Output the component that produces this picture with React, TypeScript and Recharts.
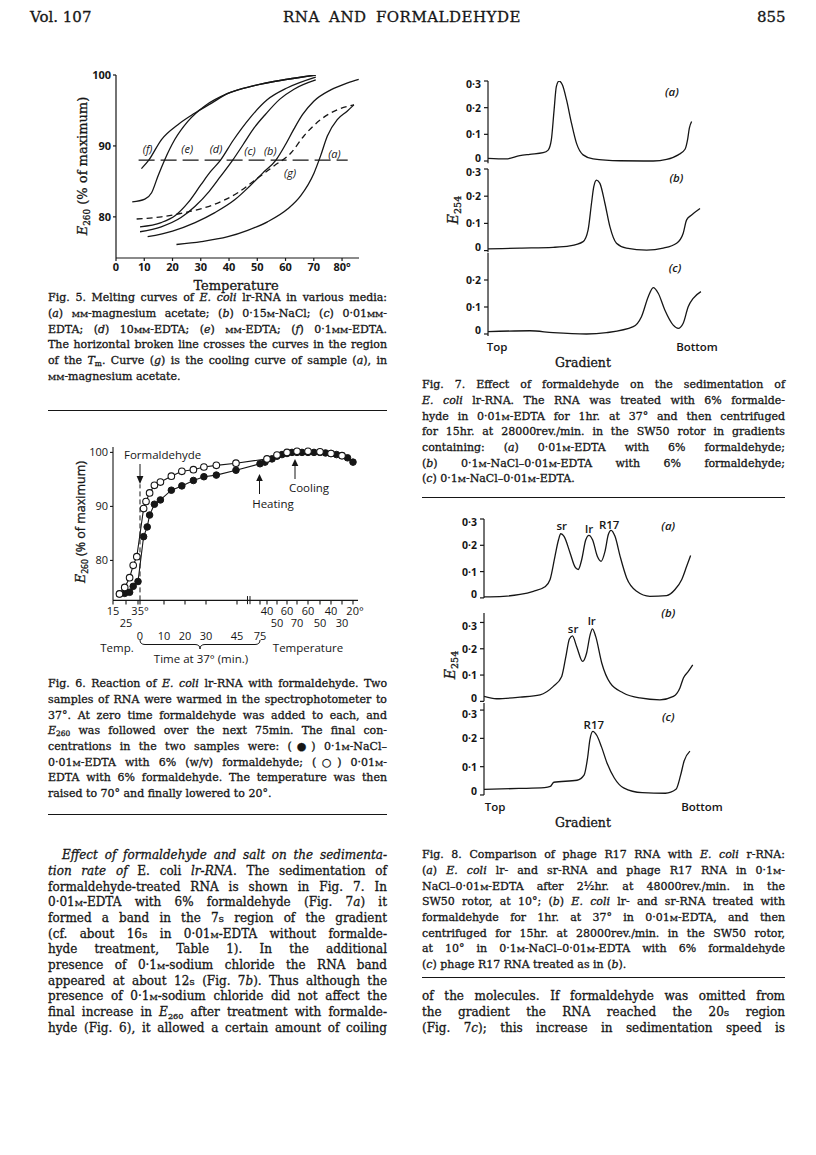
import React from 'react';
import { LineChart, Line, XAxis, YAxis, ReferenceDot, ReferenceLine } from 'recharts';

const SERIF = '"DejaVu Serif", "Liberation Serif", serif';
const SANS = '"Open Sans", "DejaVu Sans", sans-serif';
const INK = '#161616';

// ---------- Fig. 5: melting curves (temperature, E260 % of maximum) ----------
const tempA = [21.4, 30.2, 39.6, 46.6, 53.6, 60.7, 65.4, 70.1, 72.4, 74.8, 78.3, 81.8, 84.2];
const e260A = [76.1, 76.5, 77.2, 78.1, 79.3, 81.1, 83.0, 86.2, 88.6, 91.4, 93.7, 94.9, 95.8];
const tempB = [11.2, 20, 28, 35, 42, 47, 52, 56.6, 60, 63, 66, 70, 76, 82, 85.9];
const e260B = [77.2, 78.0, 79.2, 80.6, 82.4, 84.2, 86.2, 88.0, 90.2, 92.4, 94.4, 96.3, 97.9, 98.9, 99.4];
const tempC = [8.5, 16, 23, 28, 33, 37, 41.3, 45, 49, 53, 58, 63, 70.7];
const e260C = [77.9, 78.6, 79.9, 81.5, 83.6, 85.7, 88.0, 90.2, 92.6, 94.5, 96.6, 98.0, 99.3];
const tempD = [8.5, 16, 21, 25.5, 30, 33.5, 37, 41.5, 47.5, 53.5, 60.7, 70.7];
const e260D = [78.6, 79.2, 80.2, 82.0, 84.5, 86.4, 88.0, 90.8, 94.0, 96.5, 98.2, 99.7];
const tempE = [5.75, 10.2, 12.6, 14.9, 17.3, 20.8, 25.5, 31.3, 39.6, 48.9, 60.7, 70.7];
const e260E = [82.1, 82.5, 83.4, 85.8, 88.1, 90.9, 93.5, 95.6, 97.4, 98.5, 99.4, 100];
const tempF = [9, 11.6, 16.1, 21.9, 27.8, 33.7, 39.6, 48.9, 60.7, 70.7];
const e260F = [86.8, 88.0, 90.9, 93.0, 94.6, 96.0, 97.4, 98.5, 99.4, 100];
const tempG = [7.3, 16.1, 25.5, 33.7, 43.1, 48.9, 56, 61.9, 66.5, 72.4, 78.3, 84.2];
const e260G = [79.7, 80.0, 80.7, 81.6, 83.4, 85.1, 87.2, 89.0, 91.4, 93.7, 95.1, 95.8];
const tmLineTemp = [8, 82];
const tmLineE = [88, 88];
const fig5XTicks = [0, 10, 20, 30, 40, 50, 60, 70, 80];
const fig5YTicks = [80, 90, 100];
const fig5LabelText = ['(f)', '(e)', '(d)', '(c)', '(b)', '(a)', '(g)'];
const fig5LabelTemp = [11.2, 25.2, 35.4, 47.4, 54.6, 77.3, 61.6];
const fig5LabelE = [89.6, 89.5, 89.6, 89.3, 89.3, 88.9, 86.2];

// ---------- Fig. 6: reaction with formaldehyde ----------
// composite x axis: starting temperature, time at 37 deg, then heating / cooling temperatures
const fig6PreTicks = [15, 25, 35];
const fig6PreAt = [0, 13, 25];
const fig6TimeTicks = [0, 10, 20, 30, 45, 75];
const fig6TimeAt = [27, 51, 72, 93, 124, 147];
const fig6HeatTicks = [40, 50, 60, 70];
const fig6HeatAt = [154, 164, 174, 184];
const fig6CoolTicks = [60, 50, 40, 30, 20];
const fig6CoolAt = [195, 207, 218, 229, 240];
const fig6YTicks = [80, 90, 100];

// filled circles: 0.1M-NaCl-0.01M-EDTA
const filledPreT = [20, 24, 28, 31, 35];
const filledPreE = [73.8, 73.9, 74.1, 75.2, 76.1];
const filledTime = [1.5, 3, 4, 6, 8.5, 13.5, 18.5, 24, 29, 35, 44.5, 75];
const filledTimeE = [84.4, 86.2, 88.4, 90.4, 91.2, 93.0, 93.8, 94.8, 95.5, 95.8, 96.7, 97.9];
const filledHeatT = [38, 45, 50, 55, 60, 65, 70];
const filledHeatE = [98.2, 98.8, 99.3, 99.6, 99.8, 100, 100];
const filledCoolT = [65, 60, 55, 50, 45, 40, 35, 30, 25, 20];
const filledCoolE = [100, 100, 100, 100, 99.9, 99.8, 99.6, 99.4, 99.0, 98.2];
// open circles: 0.01M-EDTA
const openPreT = [20, 24, 28, 31, 34];
const openPreE = [73.8, 75.0, 76.8, 79.1, 80.7];
const openTime = [1.5, 2.5, 4, 6, 8.5, 13.5, 18.5, 24, 29, 35, 44.5];
const openTimeE = [89.6, 90.9, 92.5, 93.9, 94.5, 95.6, 96.5, 96.8, 97.3, 97.6, 98.0];
const openHeatT = [40, 50, 60, 70];
const openHeatE = [98.8, 99.5, 100, 100.2];
const openCoolT = [60, 50, 40, 30];
const openCoolE = [100.2, 100.1, 99.8, 99.4];
const formaldehydeMarkE = [72.6, 94.1];

// ---------- Fig. 7: sedimentation, gradient position (top = 0, bottom = 100) ----------
const fig7aPos = [0, 8, 14, 18.4, 24.3, 26.5, 27.9, 29.1, 30.1, 31.3, 32.8, 34.6, 36.8, 39, 41.9, 46.3, 58, 72.8, 78.7, 83.8, 86.8, 87.9, 88.7, 89.7];
const fig7aE = [0.010, 0.008, 0.020, 0.025, 0.031, 0.041, 0.079, 0.19, 0.279, 0.30, 0.285, 0.229, 0.141, 0.066, 0.023, 0.008, 0.001, 0, 0.006, 0.023, 0.044, 0.079, 0.123, 0.148];
const fig7bPos = [0, 14, 28.7, 36, 41.9, 44.1, 45.6, 46.6, 47.8, 49.3, 51.5, 53.7, 56.6, 61, 69.9, 77.2, 83.1, 86, 87.5, 89.7, 93.4];
const fig7bE = [0.006, 0.009, 0.012, 0.017, 0.033, 0.076, 0.174, 0.235, 0.259, 0.247, 0.174, 0.088, 0.027, 0.009, 0.002, 0.009, 0.027, 0.064, 0.113, 0.131, 0.155];
const fig7cPos = [0, 18.4, 28.7, 43.4, 52.2, 64, 67.6, 70.6, 72.8, 75, 77.9, 81.6, 83.8, 86, 88.2, 90.4, 93.8];
const fig7cE = [0.009, 0.012, 0.005, 0.0, 0.005, 0.027, 0.064, 0.138, 0.172, 0.151, 0.089, 0.033, 0.021, 0.040, 0.101, 0.132, 0.157];

// ---------- Fig. 8: phage R17 RNA vs E. coli r-RNA ----------
const fig8aPos = [0, 8.3, 15.5, 21.2, 26.2, 28.4, 30.5, 32, 33, 34.4, 37, 39.1, 40.5, 42, 43.7, 45.1, 46.7, 48.7, 50.3, 52, 53.4, 54.6, 56.3, 58.5, 61.3, 65.6, 71.3, 78.5, 82.1, 85, 87.1, 88.8];
const fig8aE = [0.004, 0.006, 0.013, 0.025, 0.042, 0.07, 0.158, 0.22, 0.244, 0.234, 0.171, 0.118, 0.108, 0.146, 0.22, 0.238, 0.22, 0.158, 0.139, 0.177, 0.24, 0.257, 0.234, 0.158, 0.076, 0.025, 0.006, 0.009, 0.032, 0.07, 0.12, 0.161];
const fig8bPos = [0, 5.4, 15.5, 24.1, 29.8, 33.4, 35.2, 36.7, 38, 39.8, 42.4, 44.1, 45.6, 46.6, 48, 50.6, 54.2, 59.9, 67, 75.6, 81.4, 84.2, 85.7, 87.8, 89.7];
const fig8bE = [0.019, 0.010, 0.016, 0.025, 0.057, 0.095, 0.171, 0.237, 0.249, 0.209, 0.152, 0.184, 0.253, 0.276, 0.247, 0.146, 0.07, 0.032, 0.013, 0.006, 0.019, 0.051, 0.089, 0.114, 0.139];
const fig8cPos = [0, 15, 26, 28.5, 30, 40, 43, 44.5, 45.5, 46.8, 48.5, 50.5, 53, 56, 60, 68, 78, 82.5, 84.5, 86, 88.5];
const fig8cE = [0.02, 0.023, 0.026, 0.03, 0.045, 0.052, 0.07, 0.13, 0.195, 0.225, 0.21, 0.17, 0.11, 0.06, 0.025, 0.008, 0.006, 0.02, 0.07, 0.12, 0.155];

const fig7aLabels = [{ text: '(a)', pos: 81, e: 0.259 }];
const fig7bLabels = [{ text: '(b)', pos: 83, e: 0.266 }];
const fig7cLabels = [{ text: '(c)', pos: 82.4, e: 0.244 }];
const fig8aLabels = [
  { text: 'sr', pos: 33.4, e: 0.272 },
  { text: 'lr', pos: 45.2, e: 0.263 },
  { text: 'R17', pos: 53.8, e: 0.278 },
  { text: '(a)', pos: 79.2, e: 0.272 },
];
const fig8bLabels = [
  { text: 'sr', pos: 38.3, e: 0.276 },
  { text: 'lr', pos: 46.3, e: 0.305 },
  { text: '(b)', pos: 79.2, e: 0.338 },
];
const fig8cLabels = [
  { text: 'R17', pos: 47.2, e: 0.247 },
  { text: '(c)', pos: 79.2, e: 0.277 },
];

const zip = (xs: number[], ys: number[]) => xs.map((x, i) => ({ x, y: ys[i] }));

// piecewise-linear position on the composite axis of Fig. 6
function axisPos(v: number, ticks: number[], at: number[]) {
  for (let i = 0; i < ticks.length - 1; i++) {
    const a = ticks[i], b = ticks[i + 1];
    if ((v - a) * (v - b) <= 0) return at[i] + ((v - a) / (b - a)) * (at[i + 1] - at[i]);
  }
  const first = Math.abs(v - ticks[0]) < Math.abs(v - ticks[ticks.length - 1]);
  const i = first ? 0 : ticks.length - 2;
  return at[i] + ((v - ticks[i]) / (ticks[i + 1] - ticks[i])) * (at[i + 1] - at[i]);
}

function fig6Series(pre: number[], preE: number[], time: number[], timeE: number[], heat: number[], heatE: number[], cool: number[], coolE: number[]) {
  return [
    ...pre.map((t, i) => ({ x: axisPos(t, fig6PreTicks, fig6PreAt), y: preE[i] })),
    ...time.map((t, i) => ({ x: axisPos(t, fig6TimeTicks, fig6TimeAt), y: timeE[i] })),
    ...heat.map((t, i) => ({ x: axisPos(t, fig6HeatTicks, fig6HeatAt), y: heatE[i] })),
    ...cool.map((t, i) => ({ x: axisPos(t, fig6CoolTicks, fig6CoolAt), y: coolE[i] })),
  ];
}

const fig6TickTable = [
  ...fig6PreTicks.map((t, i) => ({ s: fig6PreAt[i], label: t === 35 ? '35°' : String(t), row: i % 2 })),
  ...fig6TimeTicks.map((t, i) => ({ s: fig6TimeAt[i], label: String(t), row: 2 })),
  ...fig6HeatTicks.map((t, i) => ({ s: fig6HeatAt[i], label: String(t), row: i % 2 })),
  ...fig6CoolTicks.map((t, i) => ({ s: fig6CoolAt[i], label: t === 20 ? '20°' : String(t), row: i % 2 })),
];

function frame(plotLeft: number, plotTop: number, plotRight: number, plotBottom: number, yAxisW: number, xAxisH: number) {
  const pad = 10;
  const left = plotLeft - yAxisW - pad;
  const top = plotTop - pad;
  return {
    left,
    top,
    width: plotRight + pad - left,
    height: plotBottom + xAxisH + pad - top,
    margin: { top: pad, right: pad, bottom: pad, left: pad },
  };
}

const M = () => <span style={{ fontVariant: 'small-caps' }}>m</span>;
const MM = () => <span style={{ fontVariant: 'small-caps' }}>mm</span>;
const Sv = () => <span style={{ fontVariant: 'small-caps' }}>s</span>;
const Sub = ({ children }: { children: React.ReactNode }) => (
  <span style={{ fontSize: '0.68em', position: 'relative', top: '0.3em' }}>{children}</span>
);

const LH = 15.7;
const HEAVY = '0.3px ' + INK;

function TextBlock({ x, y, w, size, lines, indent = 0 }: { x: number; y: number; w: number; size: number; lines: React.ReactNode[]; indent?: number }) {
  return (
    <>
      {lines.map((ln, i) => {
        const last = i === lines.length - 1 && (ln as any)?.props?.['data-last'];
        return (
          <div
            key={i}
            style={{
              position: 'absolute',
              left: x,
              top: y + i * LH - LH / 2,
              width: w,
              height: LH,
              lineHeight: LH + 'px',
              fontFamily: SERIF,
              fontSize: size,
              color: INK,
              WebkitTextStroke: HEAVY,
              whiteSpace: 'nowrap',
              textAlign: last ? 'left' : 'justify',
              textAlignLast: last ? 'left' : 'justify',
              paddingLeft: i === 0 ? indent : 0,
              boxSizing: 'border-box',
            }}
          >
            {ln}
          </div>
        );
      })}
    </>
  );
}

const Last = ({ children }: { children: React.ReactNode; 'data-last'?: boolean }) => <span>{children}</span>;

const fig5Caption = [
  <>Fig. 5. Melting curves of <i>E. coli</i> lr-RNA in various media:</>,
  <>(<i>a</i>) <MM />-magnesium acetate; (<i>b</i>) 0·15<M />-NaCl; (<i>c</i>) 0·01<MM />-</>,
  <>EDTA; (<i>d</i>) 10<MM />-EDTA; (<i>e</i>) <MM />-EDTA; (<i>f</i>) 0·1<MM />-EDTA.</>,
  <>The horizontal broken line crosses the curves in the region</>,
  <>of the <i>T</i><Sub>m</Sub>. Curve (<i>g</i>) is the cooling curve of sample (<i>a</i>), in</>,
  <Last data-last><MM />-magnesium acetate.</Last>,
];

const fig6Caption = [
  <>Fig. 6. Reaction of <i>E. coli</i> lr-RNA with formaldehyde. Two</>,
  <>samples of RNA were warmed in the spectrophotometer to</>,
  <>37°. At zero time formaldehyde was added to each, and</>,
  <><i>E</i><Sub>260</Sub> was followed over the next 75min. The final con-</>,
  <>centrations in the two samples were: (●) 0·1<M />-NaCl–</>,
  <>0·01<M />-EDTA with 6% (w/v) formaldehyde; (○) 0·01<M />-</>,
  <>EDTA with 6% formaldehyde. The temperature was then</>,
  <Last data-last>raised to 70° and finally lowered to 20°.</Last>,
];

const fig7Caption = [
  <>Fig. 7. Effect of formaldehyde on the sedimentation of</>,
  <><i>E. coli</i> lr-RNA. The RNA was treated with 6% formalde-</>,
  <>hyde in 0·01<M />-EDTA for 1hr. at 37° and then centrifuged</>,
  <>for 15hr. at 28000rev./min. in the SW50 rotor in gradients</>,
  <>containing: (<i>a</i>) 0·01<M />-EDTA with 6% formaldehyde;</>,
  <>(<i>b</i>) 0·1<M />-NaCl–0·01<M />-EDTA with 6% formaldehyde;</>,
  <Last data-last>(<i>c</i>) 0·1<M />-NaCl–0·01<M />-EDTA.</Last>,
];

const fig8Caption = [
  <>Fig. 8. Comparison of phage R17 RNA with <i>E. coli</i> r-RNA:</>,
  <>(<i>a</i>) <i>E. coli</i> lr- and sr-RNA and phage R17 RNA in 0·1<M />-</>,
  <>NaCl–0·01<M />-EDTA after 2½hr. at 48000rev./min. in the</>,
  <>SW50 rotor, at 10°; (<i>b</i>) <i>E. coli</i> lr- and sr-RNA treated with</>,
  <>formaldehyde for 1hr. at 37° in 0·01<M />-EDTA, and then</>,
  <>centrifuged for 15hr. at 28000rev./min. in the SW50 rotor,</>,
  <>at 10° in 0·1<M />-NaCl–0·01<M />-EDTA with 6% formaldehyde</>,
  <Last data-last>(<i>c</i>) phage R17 RNA treated as in (<i>b</i>).</Last>,
];

const bodyLeft = [
  <><i>Effect of formaldehyde and salt on the sedimenta-</i></>,
  <><i>tion rate of</i> E. coli <i>lr-RNA</i>. The sedimentation of</>,
  <>formaldehyde-treated RNA is shown in Fig. 7. In</>,
  <>0·01<M />-EDTA with 6% formaldehyde (Fig. 7<i>a</i>) it</>,
  <>formed a band in the 7<Sv /> region of the gradient</>,
  <>(cf. about 16<Sv /> in 0·01<M />-EDTA without formalde-</>,
  <>hyde treatment, Table 1). In the additional</>,
  <>presence of 0·1<M />-sodium chloride the RNA band</>,
  <>appeared at about 12<Sv /> (Fig. 7<i>b</i>). Thus although the</>,
  <>presence of 0·1<M />-sodium chloride did not affect the</>,
  <>final increase in <i>E</i><Sub>260</Sub> after treatment with formalde-</>,
  <>hyde (Fig. 6), it allowed a certain amount of coiling</>,
];

const bodyRight = [
  <>of the molecules. If formaldehyde was omitted from</>,
  <>the gradient the RNA reached the 20<Sv /> region</>,
  <>(Fig. 7<i>c</i>); this increase in sedimentation speed is</>,
];

const abs = (x: number, y: number, extra: React.CSSProperties = {}): React.CSSProperties => ({
  position: 'absolute',
  left: x,
  top: y,
  ...extra,
});

function Rotated({ cx, cy, children, font = SERIF, size = 13 }: { cx: number; cy: number; children: React.ReactNode; font?: string; size?: number }) {
  return (
    <div
      style={{
        position: 'absolute',
        left: cx,
        top: cy,
        transform: 'translate(-50%, -50%) rotate(-90deg)',
        whiteSpace: 'nowrap',
        fontFamily: font,
        fontSize: size,
        color: INK,
        WebkitTextStroke: HEAVY,
      }}
    >
      {children}
    </div>
  );
}

function Centered({ cx, cy, children, font = SANS, size = 11.5, weight = 400, style = {} }: { cx: number; cy: number; children: React.ReactNode; font?: string; size?: number; weight?: number; style?: React.CSSProperties }) {
  return (
    <div
      style={{
        position: 'absolute',
        left: cx,
        top: cy,
        transform: 'translate(-50%, -50%)',
        whiteSpace: 'nowrap',
        fontFamily: font,
        fontSize: size,
        fontWeight: weight,
        color: INK,
        ...style,
      }}
    >
      {children}
    </div>
  );
}

function Fig5() {
  const f = frame(116, 75, 359, 258, 30, 30);
  const curves = [
    { d: zip(tempA, e260A) },
    { d: zip(tempB, e260B) },
    { d: zip(tempC, e260C) },
    { d: zip(tempD, e260D) },
    { d: zip(tempE, e260E) },
    { d: zip(tempF, e260F) },
    { d: zip(tempG, e260G), dash: '6 4' },
    { d: zip(tmLineTemp, tmLineE), dash: '16 6', w: 1.1 },
  ];
  return (
    <div style={abs(f.left, f.top)}>
      <LineChart width={f.width} height={f.height} margin={f.margin}>
        <XAxis
          type="number"
          dataKey="x"
          domain={[0, 86]}
          allowDataOverflow
          ticks={fig5XTicks}
          tickFormatter={(v: number) => (v === 80 ? '80°' : String(v))}
          height={30}
          tickSize={3}
          tickMargin={2}
          stroke={INK}
          strokeWidth={1.2}
          tick={{ fontFamily: SANS, fontSize: 11, fontWeight: 700, fill: INK }}
        />
        <YAxis
          type="number"
          domain={[74.2, 100]}
          allowDataOverflow
          ticks={fig5YTicks}
          width={30}
          tickSize={3}
          tickMargin={2}
          stroke={INK}
          strokeWidth={1.2}
          tick={{ fontFamily: SANS, fontSize: 11, fontWeight: 700, fill: INK }}
        />
        {curves.map((c, i) => (
          <Line
            key={i}
            data={c.d}
            dataKey="y"
            type="monotone"
            stroke={INK}
            strokeWidth={c.w ?? 1.3}
            strokeDasharray={c.dash}
            dot={false}
            isAnimationActive={false}
          />
        ))}
        {fig5LabelText.map((t, i) => (
          <ReferenceDot
            key={t}
            x={fig5LabelTemp[i]}
            y={fig5LabelE[i]}
            r={0}
            fill="none"
            stroke="none"
            label={{ value: t, position: 'center', fill: INK, fontSize: 11, fontFamily: SANS, fontStyle: 'italic' }}
          />
        ))}
      </LineChart>
    </div>
  );
}

const ROW_DY = [6, 18, 31];

const Fig6Tick = (props: any) => {
  const { x, y, payload } = props;
  const t = fig6TickTable.find((k) => Math.abs(k.s - payload.value) < 0.01);
  if (!t) return null;
  const shift = t.label.endsWith('°') ? 2 : 0;
  return (
    <text x={x + shift} y={y + ROW_DY[t.row]} textAnchor="middle" dominantBaseline="central" fontFamily={SANS} fontSize={11} fill={INK}>
      {t.label}
    </text>
  );
};

function Fig6() {
  const f = frame(113, 446.6, 358, 600, 30, 50);
  const filled = fig6Series(filledPreT, filledPreE, filledTime, filledTimeE, filledHeatT, filledHeatE, filledCoolT, filledCoolE);
  const open = fig6Series(openPreT, openPreE, openTime, openTimeE, openHeatT, openHeatE, openCoolT, openCoolE);
  const t0 = fig6TimeAt[0];
  return (
    <div style={abs(f.left, f.top)}>
      <LineChart width={f.width} height={f.height} margin={f.margin}>
        <XAxis
          type="number"
          dataKey="x"
          domain={[0, 245]}
          allowDataOverflow
          ticks={fig6TickTable.map((t) => t.s)}
          tick={<Fig6Tick />}
          interval={0}
          height={50}
          tickSize={4}
          tickMargin={0}
          stroke={INK}
          strokeWidth={1.1}
        />
        <YAxis
          type="number"
          domain={[72.6, 101]}
          allowDataOverflow
          ticks={fig6YTicks}
          width={30}
          tickSize={3}
          tickMargin={2}
          stroke={INK}
          strokeWidth={1.1}
          tick={{ fontFamily: SANS, fontSize: 11, fill: INK }}
        />
        <ReferenceLine
          segment={[{ x: t0, y: formaldehydeMarkE[0] }, { x: t0, y: formaldehydeMarkE[1] }]}
          stroke={INK}
          strokeWidth={1}
          strokeDasharray="5 3"
        />
        <ReferenceLine segment={[{ x: 134.5, y: 71.9 }, { x: 134.5, y: 73.4 }]} stroke={INK} strokeWidth={1} ifOverflow="visible" />
        <ReferenceLine segment={[{ x: 137, y: 71.9 }, { x: 137, y: 73.4 }]} stroke={INK} strokeWidth={1} ifOverflow="visible" />
        <Line
          data={filled}
          dataKey="y"
          type="linear"
          stroke={INK}
          strokeWidth={1.1}
          dot={{ r: 3.3, fill: INK, stroke: INK, strokeWidth: 1 }}
          isAnimationActive={false}
        />
        <Line
          data={open}
          dataKey="y"
          type="linear"
          stroke={INK}
          strokeWidth={1.1}
          dot={{ r: 3.3, fill: '#fff', stroke: INK, strokeWidth: 1.1 }}
          isAnimationActive={false}
        />
      </LineChart>
    </div>
  );
}

type PanelLabel = { text: string; pos: number; e: number };

const fmtE = (v: number) => (v === 0 ? '0' : '0·' + Math.round(v * 10));

// the "0" of one panel and the "0·3" of the panel below sit very close, as in print
const PanelTick = (props: any) => {
  const { x, y, payload } = props;
  const v = payload.value as number;
  const dy = v === 0 ? -3.5 : v >= 0.3 ? 3.5 : 0;
  return (
    <text x={x} y={y + dy} textAnchor="end" dominantBaseline="central" fontFamily={SANS} fontSize={10.5} fontWeight={700} fill={INK}>
      {fmtE(v)}
    </text>
  );
};

function Panel({
  pos, e, plotLeft, plotRight, zeroY, unit, top, bottom, ticks, labels,
}: {
  pos: number[]; e: number[]; plotLeft: number; plotRight: number; zeroY: number; unit: number;
  top: number; bottom: number; ticks: number[]; labels: PanelLabel[];
}) {
  const f = frame(plotLeft, zeroY - top * unit, plotRight, zeroY - bottom * unit, 36, 0);
  return (
    <div style={abs(f.left, f.top)}>
      <LineChart width={f.width} height={f.height} margin={f.margin}>
        <XAxis type="number" dataKey="x" domain={[0, 100]} allowDataOverflow tick={false} tickLine={false} height={0} stroke={INK} strokeWidth={1.3} />
        <YAxis
          type="number"
          domain={[bottom, top]}
          allowDataOverflow
          ticks={ticks}
          width={36}
          tickSize={4}
          tickMargin={3}
          stroke={INK}
          strokeWidth={1.2}
          tick={<PanelTick />}
        />
        <Line data={zip(pos, e)} dataKey="y" type="monotone" stroke={INK} strokeWidth={1.3} dot={false} isAnimationActive={false} />
        {labels.map((l) => (
          <ReferenceDot
            key={l.text}
            x={l.pos}
            y={l.e}
            r={0}
            fill="none"
            stroke="none"
            ifOverflow="visible"
            label={{
              value: l.text,
              position: 'center',
              fill: INK,
              fontSize: 11.5,
              fontFamily: SANS,
              fontWeight: 600,
              fontStyle: l.text.startsWith('(') ? 'italic' : 'normal',
            }}
          />
        ))}
      </LineChart>
    </div>
  );
}

const Rule = ({ x1, x2, y }: { x1: number; x2: number; y: number }) => (
  <div style={abs(x1, y, { width: x2 - x1, height: 0, borderTop: `1.2px solid ${INK}` })} />
);

export default function App() {
  const L1 = 48, L2 = 387, R1 = 422, R2 = 785;
  return (
    <div style={{ position: 'absolute', left: 0, top: 0, width: 816, height: 1155, background: '#fff', overflow: 'hidden' }}>
      {/* running head */}
      <div style={abs(30, 8, { fontFamily: SERIF, fontSize: 15, color: INK, WebkitTextStroke: HEAVY })}>Vol. 107</div>
      <div style={abs(283, 8, { width: 238, fontFamily: SERIF, fontSize: 15, letterSpacing: 0.5, color: INK, WebkitTextStroke: HEAVY, whiteSpace: 'nowrap', textAlign: 'justify', textAlignLast: 'justify' })}>
        RNA AND FORMALDEHYDE
      </div>
      <div style={abs(757, 8, { width: 28, textAlign: 'right', fontFamily: SERIF, fontSize: 15, color: INK, WebkitTextStroke: HEAVY })}>855</div>

      {/* Fig. 5 */}
      <Fig5 />
      <Rotated cx={82} cy={166}>
        <i>E</i>
        <Sub>260</Sub> (% of maximum)
      </Rotated>
      <Centered cx={236} cy={285} font={SERIF} size={13} style={{ WebkitTextStroke: HEAVY }}>Temperature</Centered>
      <TextBlock x={L1} y={298} w={L2 - L1} size={11} lines={fig5Caption} />
      <Rule x1={L1} x2={L2} y={410} />

      {/* Fig. 6 */}
      <Fig6 />
      <Rotated cx={80} cy={522} font={SANS} size={12.5}>
        <i style={{ fontFamily: SERIF }}>E</i>
        <Sub>260</Sub> (% of maximum)
      </Rotated>
      <div style={abs(124, 447, { fontFamily: SANS, fontSize: 11.5, color: INK })}>Formaldehyde</div>
      <Centered cx={273} cy={503}>Heating</Centered>
      <Centered cx={309} cy={487}>Cooling</Centered>
      <Centered cx={117} cy={647}>Temp.</Centered>
      <Centered cx={308} cy={647}>Temperature</Centered>
      <Centered cx={201} cy={658}>Time at 37° (min.)</Centered>
      <svg width={816} height={1155} style={{ position: 'absolute', left: 0, top: 0, pointerEvents: 'none' }}>
        <line x1={140} y1={464} x2={140} y2={478} stroke={INK} strokeWidth={1} />
        <polygon points="136.6,476 143.4,476 140,484" fill={INK} />
        <line x1={259.5} y1={494} x2={259.5} y2={478} stroke={INK} strokeWidth={1} />
        <polygon points="256.2,481 262.8,481 259.5,474" fill={INK} />
        <line x1={295} y1={479} x2={295} y2={463} stroke={INK} strokeWidth={1} />
        <polygon points="291.7,466 298.3,466 295,459" fill={INK} />
        <path d="M140,640 Q140,644.5 145,644.5 L195,644.5 Q200,644.5 200,649 Q200,644.5 205,644.5 L255,644.5 Q260,644.5 260,640" fill="none" stroke={INK} strokeWidth={1} />
      </svg>
      <TextBlock x={L1} y={684} w={L2 - L1} size={11} lines={fig6Caption} />
      <Rule x1={L1} x2={L2} y={814} />

      {/* left column body */}
      <TextBlock x={L1} y={856} w={L2 - L1} size={12} lines={bodyLeft} indent={14} />

      {/* Fig. 7 */}
      <Panel pos={fig7aPos} e={fig7aE} plotLeft={488} plotRight={715} zeroY={161} unit={266.7} top={0.3} bottom={-0.008} ticks={[0, 0.1, 0.2, 0.3]} labels={fig7aLabels} />
      <Panel pos={fig7bPos} e={fig7bE} plotLeft={488} plotRight={715} zeroY={250.7} unit={272} top={0.3} bottom={-0.006} ticks={[0, 0.1, 0.2, 0.3]} labels={fig7bLabels} />
      <Panel pos={fig7cPos} e={fig7cE} plotLeft={488} plotRight={715} zeroY={334} unit={270} top={0.3} bottom={-0.007} ticks={[0, 0.1, 0.2]} labels={fig7cLabels} />
      <Rotated cx={453} cy={210} size={14}>
        <i>E</i>
        <Sub>254</Sub>
      </Rotated>
      <Centered cx={497} cy={346} weight={600}>Top</Centered>
      <Centered cx={697} cy={346} weight={600}>Bottom</Centered>
      <Centered cx={583} cy={362} font={SERIF} size={12.5} style={{ WebkitTextStroke: HEAVY }}>Gradient</Centered>
      <TextBlock x={R1} y={385} w={R2 - R1} size={11} lines={fig7Caption} />
      <Rule x1={R1} x2={R2} y={497} />

      {/* Fig. 8 */}
      <Panel pos={fig8aPos} e={fig8aE} plotLeft={484} plotRight={716.7} zeroY={598.3} unit={263} top={0.3} bottom={0} ticks={[0, 0.1, 0.2, 0.3]} labels={fig8aLabels} />
      <Panel pos={fig8bPos} e={fig8bE} plotLeft={484} plotRight={716.7} zeroY={701.7} unit={263} top={0.336} bottom={0} ticks={[0, 0.1, 0.2, 0.3]} labels={fig8bLabels} />
      <Panel pos={fig8cPos} e={fig8cE} plotLeft={484} plotRight={716.7} zeroY={795} unit={283} top={0.325} bottom={0} ticks={[0, 0.1, 0.2, 0.3]} labels={fig8cLabels} />
      <Rotated cx={450} cy={665} size={14}>
        <i>E</i>
        <Sub>254</Sub>
      </Rotated>
      <Centered cx={495} cy={806} weight={600}>Top</Centered>
      <Centered cx={702} cy={806} weight={600}>Bottom</Centered>
      <Centered cx={583} cy={822} font={SERIF} size={12.5} style={{ WebkitTextStroke: HEAVY }}>Gradient</Centered>
      <TextBlock x={R1} y={855} w={R2 - R1} size={11} lines={fig8Caption} />
      <Rule x1={R1} x2={R2} y={977} />

      {/* right column body */}
      <TextBlock x={R1} y={856 + 9 * LH} w={R2 - R1} size={12} lines={bodyRight} />
    </div>
  );
}
